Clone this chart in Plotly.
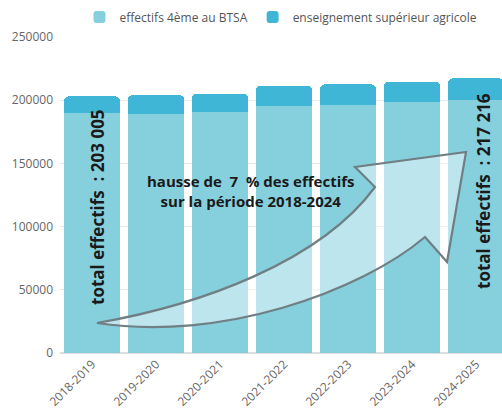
import plotly.graph_objects as go

categories = ["2018-2019", "2019-2020", "2020-2021", "2021-2022", "2022-2023", "2023-2024", "2024-2025"]
effectifs_btsa = [189500, 189400, 190300, 195800, 196500, 198300, 200500]
enseignement_sup = [13505, 14600, 14900, 15700, 16000, 16300, 16716]
y_ticks = [0, 50000, 100000, 150000, 200000, 250000]

W, H = 502, 409
L, R, T, B = 60, 0, 37, 56
PW, PH = W - L - R, H - T - B

def px(x, y):
    return (x - L) / PW, (H - B - y) / PH

def p(x, y):
    a, b = px(x, y)
    return f"{a:.4f},{b:.4f}"

fig = go.Figure()
fig.add_trace(go.Bar(x=categories, y=effectifs_btsa, name="effectifs 4ème au BTSA",
                     marker=dict(color="#86d0de", line=dict(width=0))))
fig.add_trace(go.Bar(x=categories, y=enseignement_sup, name="enseignement supérieur agricole",
                     marker=dict(color="#3fb6d6", line=dict(width=0))))

arrow = ("M " + p(97, 323) + " C " + p(200, 305) + " " + p(320, 262) + " " + p(375, 187)
         + " L " + p(355, 167) + " L " + p(466, 152) + " L " + p(447, 262) + " L " + p(425, 237)
         + " C " + p(360, 292) + " " + p(220, 342) + " " + p(97, 323) + " Z")
fig.add_shape(type="path", path=arrow, xref="paper", yref="paper",
              fillcolor="rgba(255,255,255,0.45)", line=dict(color="#6f7f83", width=2.2))

ax, ay = px(97, 207)
fig.add_annotation(x=ax, y=ay, xref="paper", yref="paper", text="<b>total effectifs  : 203 005</b>",
                   textangle=-90, showarrow=False, font=dict(size=17, color="#1a1a1a", family="Open Sans"),
                   xanchor="center", yanchor="middle")
bx, by = px(483, 191)
fig.add_annotation(x=bx, y=by, xref="paper", yref="paper", text="<b>total effectifs  : 217 216</b>",
                   textangle=-90, showarrow=False, font=dict(size=17, color="#1a1a1a", family="Open Sans"),
                   xanchor="center", yanchor="middle")
cx, cy = px(250, 191)
fig.add_annotation(x=cx, y=cy, xref="paper", yref="paper",
                   text="<b>hausse de  7  % des effectifs<br>sur la période 2018-2024</b>",
                   showarrow=False, font=dict(size=15, color="#1a1a1a", family="Open Sans"),
                   xanchor="center", yanchor="middle")

lx, ly = px(281, 17)
fig.update_layout(
    width=W, height=H, margin=dict(l=L, r=R, t=T, b=B),
    barmode="stack", bargap=0.11, barcornerradius=5,
    paper_bgcolor="white", plot_bgcolor="white",
    font=dict(family="Open Sans", size=12, color="#555"),
    legend=dict(orientation="h", x=lx, y=ly, xanchor="center", yanchor="middle",
                font=dict(size=12, color="#555"), itemwidth=30, traceorder="normal"),
    xaxis=dict(range=[-0.5, 6.406], tickangle=-45, showgrid=False, showline=False,
               tickfont=dict(size=12, color="#666"), ticks="", ticklabelstandoff=1,
               automargin=False),
    yaxis=dict(range=[0, 250000], tickvals=y_ticks, tickformat="d", showgrid=True, gridcolor="#e8e8e8",
               zeroline=True, zerolinecolor="#dddddd", tickfont=dict(size=12, color="#666"),
               ticklabelstandoff=6, automargin=False),
)
fig.write_html("out.html")
